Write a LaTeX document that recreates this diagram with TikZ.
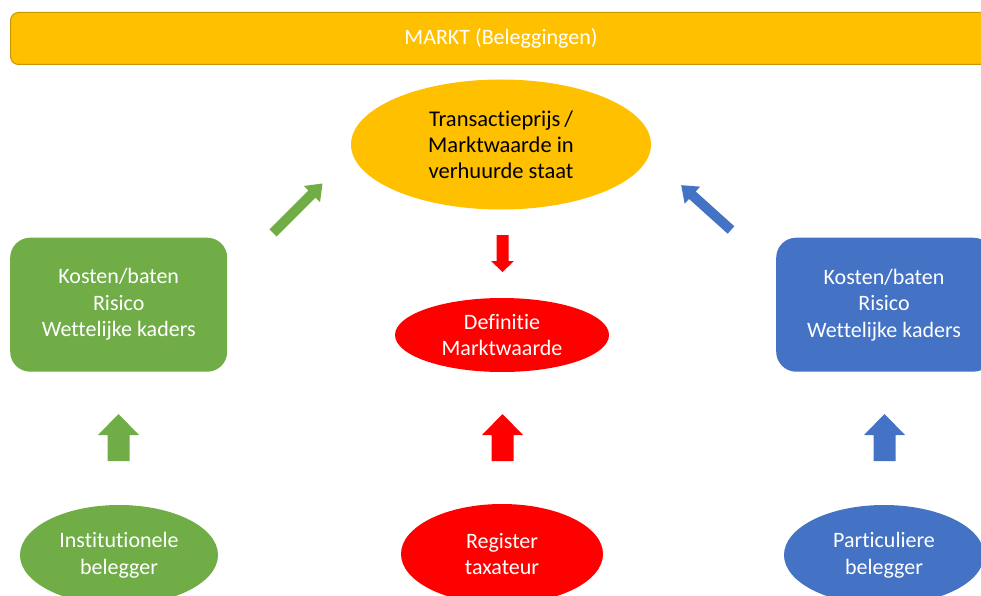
\documentclass[tikz,border=0pt]{standalone}
\usepackage{fontspec}
\setmainfont{Carlito}[Ligatures=NoCommon]
\usetikzlibrary{shapes.geometric}
\definecolor{cgold}{HTML}{FFC000}
\definecolor{cgoldline}{HTML}{C99700}
\definecolor{cgreen}{HTML}{70AD47}
\definecolor{cblue}{HTML}{4472C4}
\definecolor{cred}{HTML}{FF0000}
\newcommand\blockarr[8]{% color, x, y (tail centre), angle, length, shaft w, head w, head length
  \fill[#1, shift={(#2,#3)}, rotate=#4] (0,-#6/2) -- ({#5-#8},-#6/2) -- ({#5-#8},-#7/2) -- (#5,0) -- ({#5-#8},#7/2) -- ({#5-#8},#6/2) -- (0,#6/2) -- cycle;}
\tikzset{
  txt/.style={font=\fontsize{22}{26.5}\selectfont, align=center, text=white},
  oval/.style={ellipse, inner sep=0pt, txt},
  rbox/.style={rectangle, rounded corners=20pt, inner sep=0pt, txt}
}
\begin{document}
\begin{tikzpicture}[x=1pt,y=-1pt]
\useasboundingbox (0,0) rectangle (981,596);
\clip (0,0) rectangle (981,596);
% top bar
\node[rectangle, rounded corners=8pt, fill=cgold, draw=cgoldline, line width=1pt,
      minimum width=990pt, minimum height=52pt, anchor=north west, inner sep=0pt] (bar) at (10,12) {};
\node[txt] (bartxt) at (501,38) {MARKT (Beleggingen)};
% top ellipse
\node[oval, fill=cgold, text=black, font=\fontsize{22.5}{26}\selectfont, minimum width=300pt, minimum height=130pt] (top) at (501,144.5)
  {Transactieprijs\,/\\Marktwaarde in\\verhuurde staat};
% middle red ellipse
\node[oval, fill=cred, minimum width=214pt, minimum height=74pt] (defn) at (502,335)
  {Definitie\\Marktwaarde};
% boxes
\node[rbox, fill=cgreen, minimum width=217pt, minimum height=134pt, anchor=north west] (gbox) at (10,237.5)
  {Kosten/baten\\Risico\\Wettelijke kaders};
\node[rbox, fill=cblue, minimum width=217pt, minimum height=134pt, anchor=north west] (bbox) at (776,237.5) {};
\node[txt] (bboxtxt) at (884,305) {Kosten/baten\\Risico\\Wettelijke kaders};
% bottom ellipses
\node[oval, fill=cgreen, minimum width=198pt, minimum height=100pt] (inst) at (119,555)
  {Institutionele\\belegger};
\node[oval, fill=cred, minimum width=202pt, minimum height=100pt] (reg) at (502,554)
  {Register\\taxateur};
\node[oval, fill=cblue, minimum width=200pt, minimum height=100pt] (part) at (884,555)
  {Particuliere\\belegger};
% block arrows
\blockarr{cgreen}{118.5}{461}{90}{47}{22}{41}{21}
\blockarr{cred}{502.5}{461}{90}{47}{22}{41}{21}
\blockarr{cblue}{884.5}{461}{90}{47}{22}{41}{21}
\blockarr{cred}{502.5}{235}{-90}{37}{12}{23}{11}
\blockarr{cgreen}{273}{233}{45}{70}{10}{23}{15}
\blockarr{cblue}{731}{230}{138}{67}{10}{23}{15}
\end{tikzpicture}
\end{document}
